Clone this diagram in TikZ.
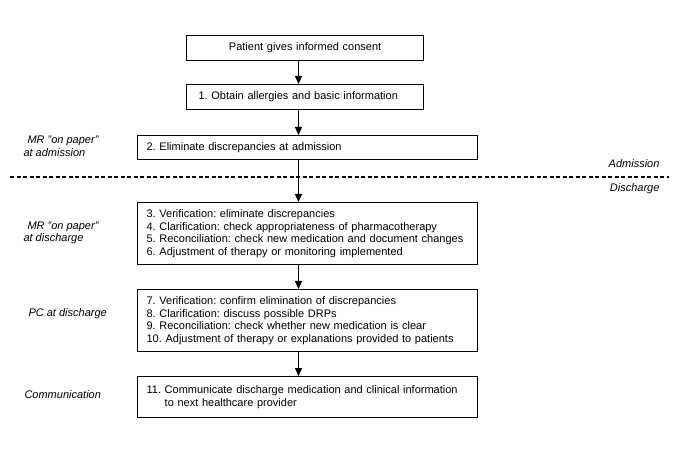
\documentclass[tikz,border=0pt]{standalone}
\usepackage{fontspec}
\setmainfont{Liberation Sans}
\usetikzlibrary{arrows.meta}
\frenchspacing
\begin{document}
\begin{tikzpicture}[x=1bp,y=-1bp,
  every node/.style={font=\fontsize{11bp}{12.6bp}\selectfont},
  box/.style={draw, line width=1.2bp, anchor=north west, inner ysep=0pt, align=left},
  widebox/.style={box, inner xsep=9bp, text width=322bp, minimum width=340bp},
  lbl/.style={anchor=west, align=left, font=\fontsize{11bp}{12.6bp}\selectfont\itshape},
  rlbl/.style={anchor=east, font=\fontsize{11bp}{12.6bp}\selectfont\itshape},
  arr/.style={line width=1.2bp, -{Triangle[length=8bp,width=7bp]}},
  sep/.style={line width=1.2bp, dash pattern=on 4bp off 2.5bp}
]
\useasboundingbox (0,0) rectangle (685,456);
\coordinate (ax) at (298.5,0);

\node[box, inner xsep=10bp, text width=217bp, minimum width=237bp, minimum height=25bp, align=center] (b0) at (186,35) {Patient gives informed consent};
\node[box, inner xsep=12bp, text width=213bp, minimum width=237bp, minimum height=25bp] (b1) at (186,84) {1. Obtain allergies and basic information};
\node[widebox, minimum height=24bp] (b2) at (137,135) {2. Eliminate discrepancies at admission};
\node[widebox, minimum height=62bp] (b3) at (137,202) {3. Verification: eliminate discrepancies\\4. Clarification: check appropriateness of pharmacotherapy\\5. Reconciliation: check new medication and document changes\\6. Adjustment of therapy or monitoring implemented};
\node[widebox, minimum height=62bp] (b4) at (137,289) {7. Verification: confirm elimination of discrepancies\\8. Clarification: discuss possible DRPs\\9. Reconciliation: check whether new medication is clear\\10. Adjustment of therapy or explanations provided to patients};
\node[widebox, minimum height=41bp] (b5) at (137,376) {11. Communicate discharge medication and clinical information\\\phantom{11. }to next healthcare provider};

\draw[arr] (b0.south -| ax) -- (b1.north -| ax);
\draw[arr] (b1.south -| ax) -- (b2.north -| ax);
\draw[arr] (b2.south -| ax) -- (b3.north -| ax);
\draw[arr] (b3.south -| ax) -- (b4.north -| ax);
\draw[arr] (b4.south -| ax) -- (b5.north -| ax);

\coordinate (dl) at (10,177);
\coordinate (dr) at (669,177);
\draw[sep] (dl) -- (dr);

\node[rlbl] (adm) at (663,164) {Admission};
\node[rlbl] (dis) at (663,189) {Discharge};

\node[lbl] (l1) at (20,146) {\hspace*{4bp}MR "on paper"\\at admission};
\node[lbl] (l2) at (20,233) {\hspace*{4bp}MR "on paper"\\at discharge};
\node[lbl] (l3) at (25,314) {PC at discharge};
\node[lbl] (l4) at (21,395) {Communication};
\end{tikzpicture}
\end{document}
